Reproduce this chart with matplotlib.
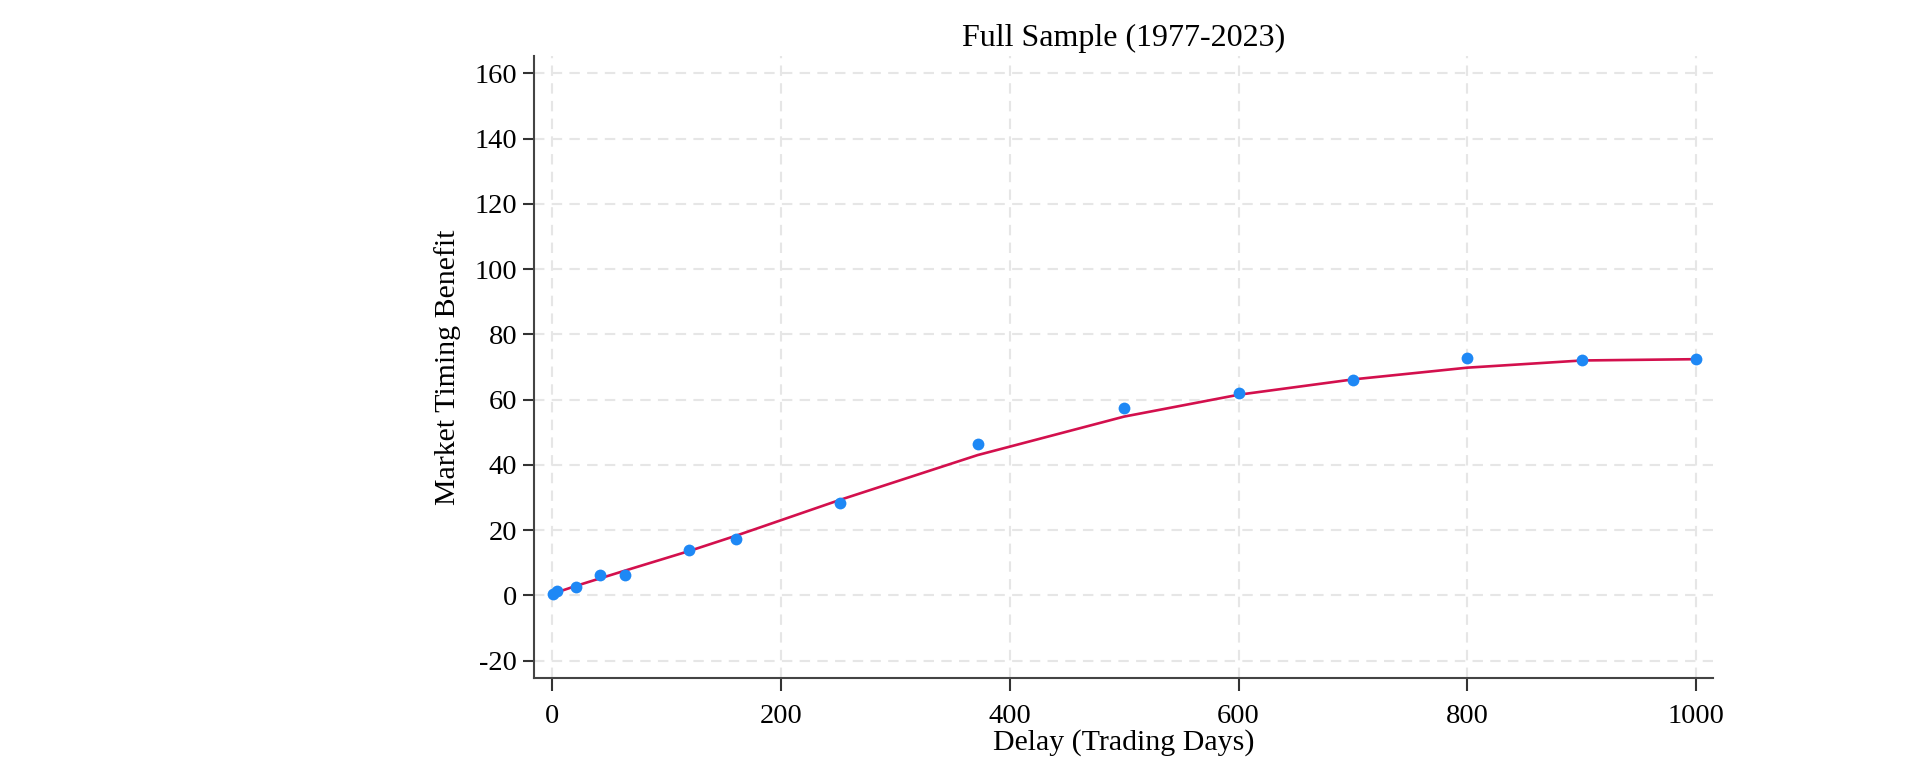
import matplotlib.pyplot as plt
import numpy as np

plt.rcParams['font.family'] = ['Liberation Serif', 'DejaVu Serif']
plt.rcParams['axes.unicode_minus'] = False

# delay (trading days) and benefit
delay = [1, 5, 21, 42, 64, 120, 161, 252, 372, 500, 600, 700, 800, 900, 1000]
benefit = [0.5, 1.3, 2.5, 6.4, 6.2, 14.0, 17.2, 28.3, 46.3, 57.3, 62.1, 65.9, 72.9, 72.2, 72.4]
# smoothed fit at the same delays
fit = [0.6, 1.0, 2.9, 5.2, 7.6, 13.6, 18.3, 29.3, 43.0, 54.8, 61.5, 66.2, 69.8, 72.0, 72.4]

yticks = np.arange(-20, 161, 20)
xticks = np.arange(0, 1001, 200)

fig = plt.figure(figsize=(19.18, 7.76), dpi=100)
ax = fig.add_axes([0.2784, 0.1263, 0.6147, 0.8015])

ax.plot(delay, fit, color='#d3104d', lw=1.9, zorder=3)
ax.plot(delay, benefit, 'o', color='#1e88f5', ms=8.5, mec='none', zorder=4)

ax.set_xlim(-15.5, 1014.5)
ax.set_ylim(-25.3, 165.3)
ax.set_xticks(xticks)
ax.set_yticks(yticks)

ax.grid(True, color='#e6e6e6', lw=1.5, linestyle=(0, (5, 3.5)))
ax.set_axisbelow(True)

for s in ['top', 'right']:
    ax.spines[s].set_visible(False)
for s in ['left', 'bottom']:
    ax.spines[s].set_color('#444444')
    ax.spines[s].set_linewidth(1.5)

ax.tick_params(axis='y', length=8, width=1.5, color='#333333', labelsize=20.5, pad=4)
ax.tick_params(axis='x', length=9, width=1.5, color='#333333', labelsize=20.5, pad=10)

ax.set_title('Full Sample (1977-2023)', fontsize=23, pad=7)
ax.set_xlabel('Delay (Trading Days)', fontsize=21.5, labelpad=0)
ax.set_ylabel('Market Timing Benefit', fontsize=21.5, labelpad=10)

fig.savefig('out.png', dpi=100)
